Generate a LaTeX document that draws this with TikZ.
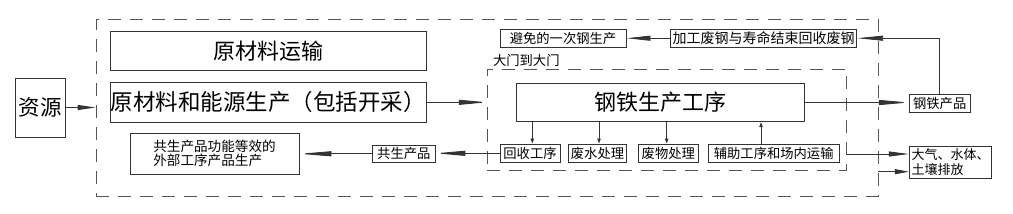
\documentclass[tikz,border=0pt]{standalone}
\usepackage{fontspec}
\setmainfont{Noto Sans CJK SC}
\usetikzlibrary{arrows.meta,calc}
\definecolor{ln}{HTML}{333333}
\definecolor{dl}{HTML}{555555}
\tikzset{
  box/.style={draw=ln,line width=0.9pt,inner sep=0pt,align=center,text=black},
  bigtxt/.style={font=\fontsize{22}{26}\selectfont},
  smalltxt/.style={font=\fontsize{13.3}{14}\selectfont},
  dbox/.style={draw=dl,line width=0.9pt,dash pattern=on 13pt off 9pt,inner sep=0pt},
  conn/.style={draw=ln,line width=0.9pt},
  arr/.style={conn,-{Triangle[length=#1,width=5pt]}},
  arr/.default=24pt,
  sarr/.style={conn,-{Triangle[length=5pt,width=3.5pt]}}
}
\begin{document}
\begin{tikzpicture}[x=1pt,y=-1pt]
\useasboundingbox (0,0) rectangle (1013,214);
% dashed boundaries
\node[dbox,minimum width=782pt,minimum height=176.5pt] (outer) at (487,107.75) {};
\node[dbox,minimum width=359.4pt,minimum height=101pt] (gate) at (667,119.5) {};
\node[anchor=south west,inner sep=0pt,smalltxt] (gatelbl) at ([xshift=6pt,yshift=2pt]gate.north west) {大门到大门};
% boxes
\node[box,font=\fontsize{21.5}{24}\selectfont,minimum width=49.3pt,minimum height=59pt] (res) at (40.3,107.5) {资源};
\node[box,bigtxt,minimum width=316.7pt,minimum height=39pt] (transp) at (268.3,51.2) {原材料运输};
\node[box,font=\fontsize{22.5}{24}\selectfont,minimum width=316.7pt,minimum height=40pt] (rawprod) at (268.3,102.3) {原材料和能源生产（包括开采）};
\node[box,align=left,font=\fontsize{13.6}{14}\selectfont,minimum width=169pt,minimum height=41pt] (eqv) at (214.5,153.5) {共生产品功能等效的\\外部工序产品生产};
\node[box,smalltxt,minimum width=62.3pt,minimum height=17.7pt] (cop) at (403.8,153.8) {共生产品};
\node[box,bigtxt,minimum width=287.3pt,minimum height=38.4pt] (steel) at (660.3,102.5) {钢铁生产工序};
\node[box,smalltxt,minimum width=60pt,minimum height=18.7pt] (rec) at (530,153.3) {回收工序};
\node[box,smalltxt,minimum width=58.3pt,minimum height=18.7pt] (ww) at (597.5,153.3) {废水处理};
\node[box,smalltxt,minimum width=60pt,minimum height=18.7pt] (sw) at (668.3,153.3) {废物处理};
\node[box,smalltxt,minimum width=130.7pt,minimum height=18.7pt] (aux) at (773.7,153.3) {辅助工序和场内运输};
\node[box,smalltxt,minimum width=126pt,minimum height=18.3pt] (avoid) at (563,38.2) {避免的一次钢生产};
\node[box,font=\fontsize{14}{15}\selectfont,minimum width=186pt,minimum height=18.3pt] (scrap) at (763.7,38.2) {加工废钢与寿命结束回收废钢};
\node[box,smalltxt,minimum width=60.7pt,minimum height=18.3pt] (prod) at (939.7,103.2) {钢铁产品};
\node[box,align=left,font=\fontsize{13}{15}\selectfont,minimum width=82.4pt,minimum height=31.6pt] (emis) at (950.5,162.5) {大气、水体、\\土壤排放};
% connectors
\draw[arr=18pt] (res.east) -- (res.east -| outer.west);
\draw[arr=28pt] (rawprod.east) -- (rawprod.east -| gate.west);
\draw[arr=30pt] (steel.east) -- (steel.east -| prod.west);
\draw[arr=26pt] (prod.north) |- (scrap.east);
\draw[arr=24pt] (scrap.west) -- (avoid.east);
\draw[sarr] ([xshift=2.3pt]steel.south -| rec.north) -- ([xshift=2.3pt]rec.north);
\draw[sarr] ([xshift=1.5pt]steel.south -| ww.north) -- ([xshift=1.5pt]ww.north);
\draw[sarr] ([xshift=-1.6pt]steel.south -| sw.north) -- ([xshift=-1.6pt]sw.north);
\draw[sarr] ([xshift=-12.7pt]aux.north) -- ([xshift=-12.7pt]aux.north |- steel.south);
\draw[arr=30pt] (rec.west) -- (rec.west -| cop.east);
\draw[arr=32pt] (cop.west) -- (cop.west -| eqv.east);
\coordinate (e1) at ([yshift=8.5pt]emis.west);
\coordinate (e2) at ([yshift=-9.2pt]emis.west);
\draw[arr=20pt] (e1 -| gate.east) -- (e1);
\draw[arr=14pt] (e2 -| outer.east) -- (e2);
\end{tikzpicture}
\end{document}
